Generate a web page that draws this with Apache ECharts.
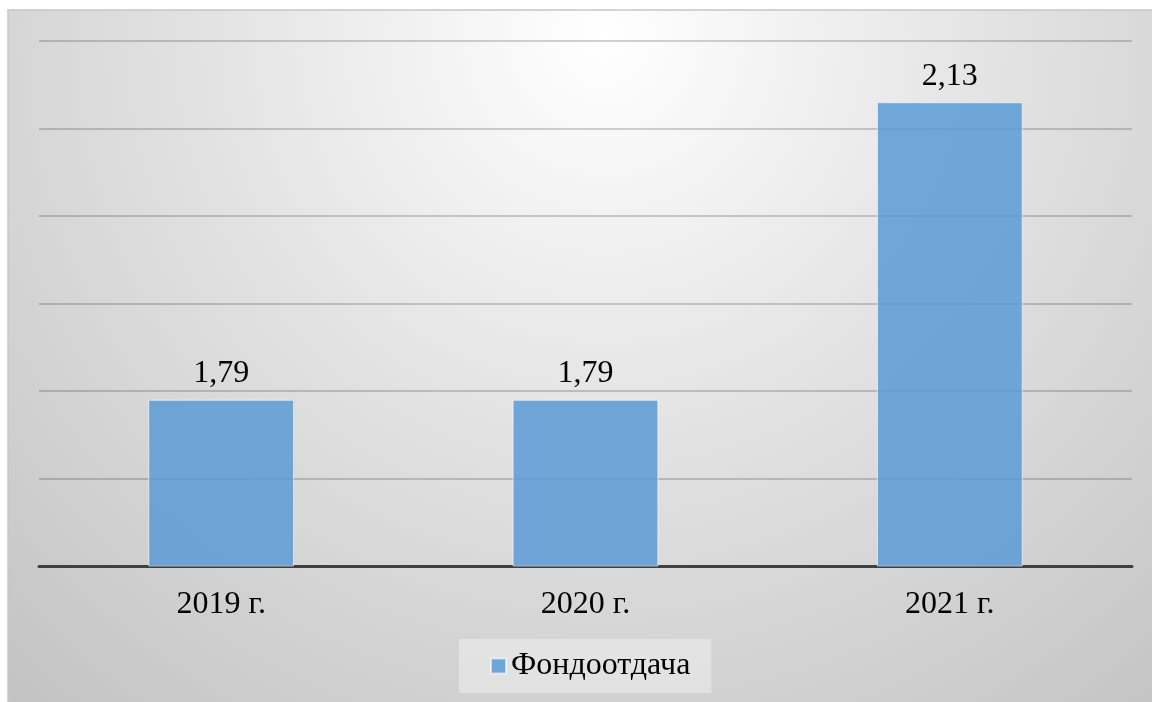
<!DOCTYPE html>
<html>
<head>
<meta charset="utf-8">
<script src="https://cdn.jsdelivr.net/npm/echarts@6/dist/echarts.min.js"></script>
<style>
  html, body { margin: 0; padding: 0; background: #ffffff; }
  #chart { width: 1152px; height: 702px; }
</style>
</head>
<body>
<div id="chart"></div>
<script>
// Fixed-asset productivity by year
const years = ['2019 г.', '2020 г.', '2021 г.'];
const fondootdacha = [1.79, 1.79, 2.13];
const seriesName = 'Фондоотдача';

const FONT = '"Liberation Serif", "Times New Roman", serif';

const chart = echarts.init(document.getElementById('chart'), null, { renderer: 'canvas' });

chart.setOption({
  backgroundColor: '#ffffff',
  animation: false,
  graphic: [{
    type: 'rect',
    z: -100,
    silent: true,
    shape: { x: 8, y: 10, width: 1146, height: 694 },
    style: {
      fill: new echarts.graphic.RadialGradient(0.52, 0.04, 1.3, [
        { offset: 0, color: '#ffffff' },
        { offset: 0.45, color: '#e2e2e2' },
        { offset: 1, color: '#c2c2c2' }
      ]),
      stroke: '#c6c6c6',
      lineWidth: 1.5
    }
  }],
  grid: { left: 39, right: 20, top: 41, bottom: 136, containLabel: false },
  legend: {
    data: [seriesName],
    left: 459,
    top: 639,
    icon: 'rect',
    itemWidth: 15,
    itemHeight: 15,
    itemGap: 5,
    padding: [11, 21, 11, 31],
    backgroundColor: 'rgba(255,255,255,0.35)',
    textStyle: { fontFamily: FONT, fontSize: 32, color: '#000000', lineHeight: 30, padding: [0, 0, 0, 0] }
  },
  xAxis: {
    type: 'category',
    data: years,
    axisLine: { show: true, lineStyle: { color: '#404040', width: 3 } },
    axisTick: { show: false },
    axisLabel: { fontFamily: FONT, fontSize: 32, color: '#000000', margin: 23 },
    splitLine: { show: false }
  },
  yAxis: {
    type: 'value',
    min: 1.6,
    max: 2.2,
    interval: 0.1,
    axisLine: { show: false },
    axisTick: { show: false },
    axisLabel: { show: false },
    splitLine: { show: true, lineStyle: { color: 'rgba(0,0,0,0.24)', width: 1.5 } }
  },
  series: [{
    name: seriesName,
    type: 'bar',
    data: fondootdacha,
    barCategoryGap: '60%',
    itemStyle: {
      color: 'rgba(91,155,213,0.85)',
      borderColor: 'rgba(255,255,255,0.6)',
      borderWidth: 1
    },
    label: {
      show: true,
      position: 'top',
      distance: 10,
      fontFamily: FONT,
      fontSize: 32,
      color: '#000000',
      formatter: p => String(p.value).replace('.', ',')
    }
  }]
});
</script>
</body>
</html>
